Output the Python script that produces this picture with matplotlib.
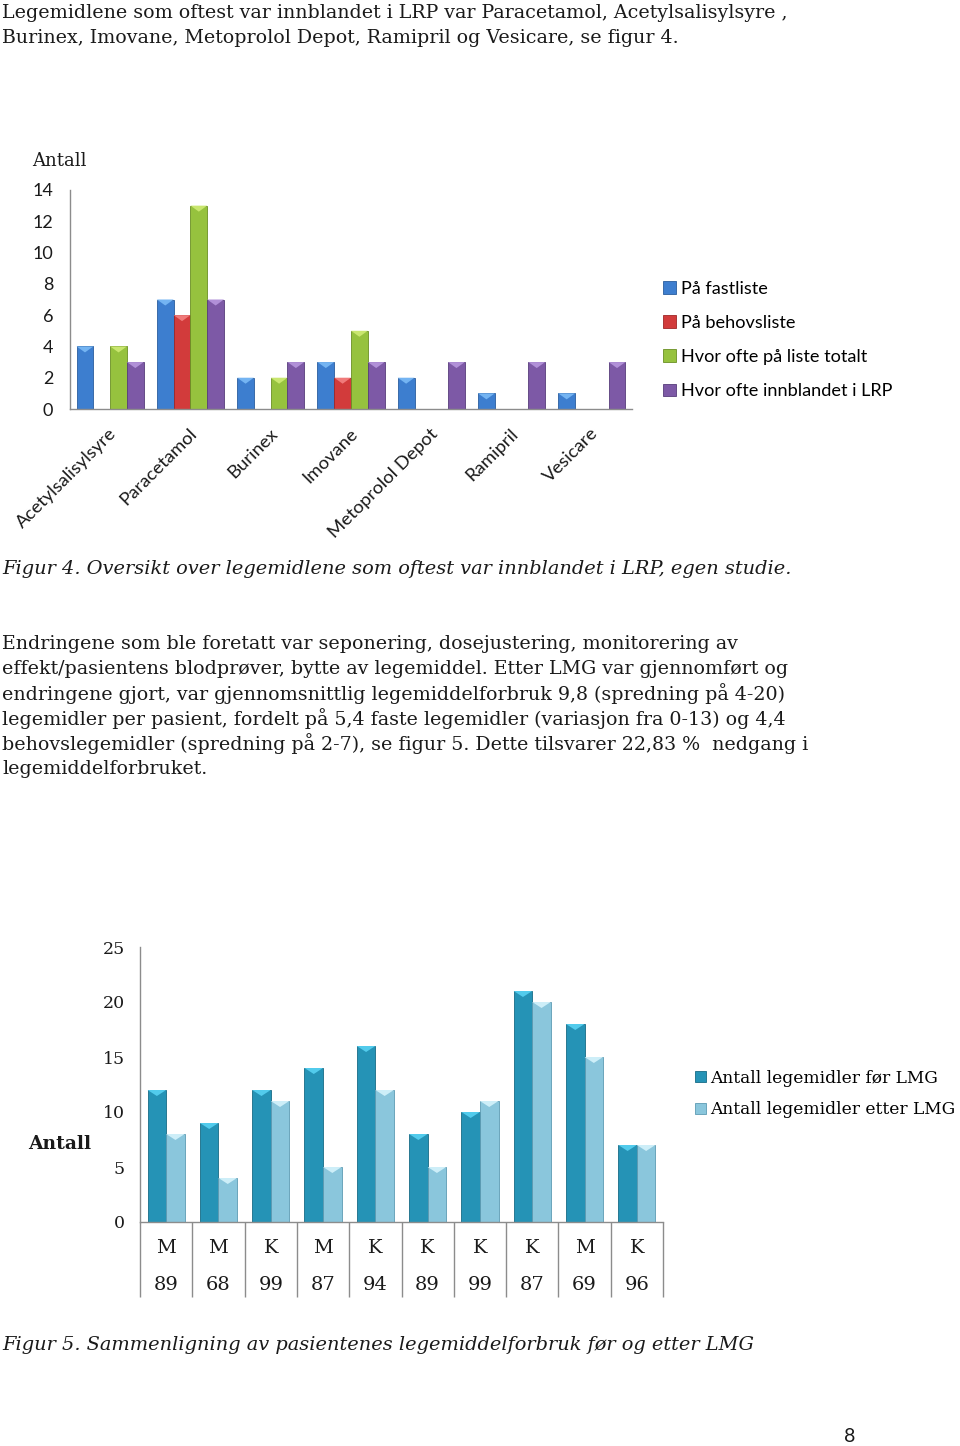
import matplotlib
matplotlib.use("Agg")
import matplotlib.pyplot as plt
import matplotlib.transforms as mtransforms
from matplotlib.patches import Patch, Polygon
import numpy as np

# ---------------- data ----------------
drugs = ["Acetylsalisylsyre", "Paracetamol", "Burinex", "Imovane",
         "Metoprolol Depot", "Ramipril", "Vesicare"]
series1_names = ["På fastliste", "På behovsliste", "Hvor ofte på liste totalt",
                 "Hvor ofte innblandet i LRP"]
fastliste = [4, 7, 2, 3, 2, 1, 1]
behovsliste = [0, 6, 0, 2, 0, 0, 0]
totalt = [4, 13, 2, 5, 0, 0, 0]
innblandet = [3, 7, 3, 3, 3, 3, 3]
yticks1 = [0, 2, 4, 6, 8, 10, 12, 14]

sex = ["M", "M", "K", "M", "K", "K", "K", "K", "M", "K"]
age = ["89", "68", "99", "87", "94", "89", "99", "87", "69", "96"]
series2_names = ["Antall legemidler før LMG", "Antall legemidler etter LMG"]
before = [12, 9, 12, 14, 16, 8, 10, 21, 18, 7]
after = [8, 4, 11, 5, 12, 5, 11, 20, 15, 7]
yticks2 = [0, 5, 10, 15, 20, 25]

top_lines = ["Legemidlene som oftest var innblandet i LRP var Paracetamol, Acetylsalisylsyre ,",
             "Burinex, Imovane, Metoprolol Depot, Ramipril og Vesicare, se figur 4."]
caption4 = "Figur 4. Oversikt over legemidlene som oftest var innblandet i LRP, egen studie."
body_lines = ["Endringene som ble foretatt var seponering, dosejustering, monitorering av",
              "effekt/pasientens blodprøver, bytte av legemiddel. Etter LMG var gjennomført og",
              "endringene gjort, var gjennomsnittlig legemiddelforbruk 9,8 (spredning på 4-20)",
              "legemidler per pasient, fordelt på 5,4 faste legemidler (variasjon fra 0-13) og 4,4",
              "behovslegemidler (spredning på 2-7), se figur 5. Dette tilsvarer 22,83 %  nedgang i",
              "legemiddelforbruket."]
caption5 = "Figur 5. Sammenligning av pasientenes legemiddelforbruk før og etter LMG"
page_no = "8"

# ---------------- figure ----------------
W, H = 960, 1446
DPI = 100
fig = plt.figure(figsize=(W / DPI, H / DPI), dpi=DPI)
fig.patch.set_facecolor("white")
renderer = fig.canvas.get_renderer()

SERIF = ["DejaVu Serif"]
SANS = ["Lato", "DejaVu Sans"]


def fx(x):
    return x / W


def fy(y):
    return 1 - y / H


def px_axes(l, t, r, b):
    return fig.add_axes([l / W, 1 - b / H, (r - l) / W, (b - t) / H])


def fit_size(s, width_px, **kw):
    t = fig.text(0, 0, s, fontsize=10, **kw)
    w = t.get_window_extent(renderer).width
    t.remove()
    return 10 * width_px / w


def add_caps(ax, bars, cap_color, depth):
    """Light bevel triangle on top of each bar (3D look)."""
    for b in bars:
        h = b.get_height()
        if h <= 0 or not b.get_visible():
            continue
        x0 = b.get_x()
        x1 = x0 + b.get_width()
        xc = 0.5 * (x0 + x1)
        ax.add_patch(Polygon([[x0, h], [x1, h], [xc, h - depth]], closed=True,
                             facecolor=cap_color, edgecolor="none", zorder=3))


TXT = "#1a1a1a"

# top paragraph
s_top = fit_size(top_lines[0], 785, family=SERIF)
for i, line in enumerate(top_lines):
    fig.text(fx(2), fy(13 + 25 * i), line, family=SERIF, fontsize=s_top,
             va="center", ha="left", color=TXT)

# caption 4
s_cap4 = fit_size(caption4, 788, family=SERIF, style="italic")
fig.text(fx(2), fy(569), caption4, family=SERIF, style="italic", fontsize=s_cap4,
         va="center", ha="left", color=TXT)

# body
s_body = fit_size(body_lines[0], 735, family=SERIF)
for i, line in enumerate(body_lines):
    fig.text(fx(2), fy(644 + 25 * i), line, family=SERIF, fontsize=s_body,
             va="center", ha="left", color=TXT)

# caption 5
s_cap5 = fit_size(caption5, 752, family=SERIF, style="italic")
fig.text(fx(2), fy(1345), caption5, family=SERIF, style="italic", fontsize=s_cap5,
         va="center", ha="left", color=TXT)

fig.text(fx(850), fy(1437), page_no, family=SANS, fontsize=14, va="center",
         ha="center", color=TXT)

# ---------------- chart 1 ----------------
GRID = "#8c8c8c"
colors1 = ["#3d7ecf", "#d23b3b", "#96c23e", "#7d59a6"]
edges1 = ["#2a5d9e", "#9e2626", "#6a8f24", "#573d7a"]
caps1 = ["#74b4f2", "#f07a7a", "#c9e66f", "#b190d8"]
ax1 = px_axes(70, 190, 632, 409)
x = np.arange(len(drugs))
w = 0.209
vals1 = [fastliste, behovsliste, totalt, innblandet]
handles1 = []
for k, (vals, c, ec, cc) in enumerate(zip(vals1, colors1, edges1, caps1)):
    bars = ax1.bar(x + (k - 1.5) * w, vals, width=w, color=c, edgecolor=ec,
                   linewidth=0.6)
    for b, v in zip(bars, vals):
        if v == 0:
            b.set_visible(False)
    add_caps(ax1, bars, cc, 14 * 6 / 219)
    handles1.append(Patch(facecolor=c, edgecolor=ec, linewidth=0.6))
ax1.set_xlim(-0.5, len(drugs) - 0.5)
ax1.set_ylim(0, 14)
ax1.set_yticks(yticks1)
ax1.set_yticklabels([str(v) for v in yticks1], family=SANS, fontsize=13, color=TXT)
ax1.tick_params(axis="y", length=0, pad=12)
ax1.tick_params(axis="x", length=0)
ax1.set_xticks([])
for sp in ["top", "right"]:
    ax1.spines[sp].set_visible(False)
for sp in ["left", "bottom"]:
    ax1.spines[sp].set_color(GRID)
    ax1.spines[sp].set_linewidth(1.0)
ax1.patch.set_alpha(0)

# rotated category labels
trans1 = mtransforms.blended_transform_factory(ax1.transData, ax1.transAxes)
for i, name in enumerate(drugs):
    ax1.text(i + 0.05, -0.10, name, transform=trans1, rotation=45,
             rotation_mode="anchor", ha="right", va="center", family=SANS,
             fontsize=13.3, color=TXT)

fig.text(fx(32), fy(161), "Antall", family=SERIF, fontsize=13, ha="left",
         va="center", color=TXT)

s_leg1 = fit_size(series1_names[3], 212, family=SANS)
ax1.legend(handles1, series1_names, loc="center left",
           bbox_to_anchor=(fx(663), fy(340)), bbox_transform=fig.transFigure,
           frameon=False, prop={"family": SANS, "size": s_leg1},
           handlelength=0.7, handleheight=0.7, handletextpad=0.3,
           labelspacing=1.0, borderaxespad=0, borderpad=0)

# ---------------- chart 2 ----------------
colors2 = ["#2593b6", "#8ac6dc"]
edges2 = ["#176b86", "#5d9bb3"]
caps2 = ["#52cbec", "#cdeef8"]
ax2 = px_axes(140, 947, 663, 1222)
x2 = np.arange(len(before))
w2 = 0.355
handles2 = []
for k, (vals, c, ec, cc) in enumerate(zip([before, after], colors2, edges2, caps2)):
    bars = ax2.bar(x2 + (k - 0.5) * w2, vals, width=w2, color=c, edgecolor=ec,
                   linewidth=0.6)
    add_caps(ax2, bars, cc, 25 * 6 / 275)
    handles2.append(Patch(facecolor=c, edgecolor=ec, linewidth=0.6))
ax2.set_xlim(-0.5, len(before) - 0.5)
ax2.set_ylim(0, 25)
ax2.set_yticks(yticks2)
ax2.set_yticklabels([str(v) for v in yticks2], family=SERIF, fontsize=12.5,
                    color=TXT)
ax2.tick_params(axis="y", length=0, pad=11)
ax2.set_xticks([])
for sp in ["top", "right"]:
    ax2.spines[sp].set_visible(False)
for sp in ["left", "bottom"]:
    ax2.spines[sp].set_color(GRID)
    ax2.spines[sp].set_linewidth(1.0)
ax2.patch.set_alpha(0)

trans2 = mtransforms.blended_transform_factory(ax2.transData, ax2.transAxes)
sep_bottom = -(1297 - 1222) / 275
ax2.vlines(np.arange(len(before) + 1) - 0.5, sep_bottom, 0, transform=trans2,
           colors=GRID, linewidth=1.0, clip_on=False)
for i, (s, a) in enumerate(zip(sex, age)):
    ax2.text(i, -(1248 - 1222) / 275, s, transform=trans2, ha="center",
             va="center", family=SERIF, fontsize=14, color=TXT)
    ax2.text(i, -(1285 - 1222) / 275, a, transform=trans2, ha="center",
             va="center", family=SERIF, fontsize=14, color=TXT)

fig.text(fx(28), fy(1144), "Antall", family=SERIF, fontsize=13.5,
         fontweight="bold", ha="left", va="center", color=TXT)

s_leg2 = fit_size(series2_names[1], 245, family=SERIF)
ax2.legend(handles2, series2_names, loc="center left",
           bbox_to_anchor=(fx(695), fy(1094)), bbox_transform=fig.transFigure,
           frameon=False, prop={"family": SERIF, "size": s_leg2},
           handlelength=0.65, handleheight=0.65, handletextpad=0.25,
           labelspacing=0.85, borderaxespad=0, borderpad=0)

fig.savefig("out.png", dpi=DPI, facecolor="white")
